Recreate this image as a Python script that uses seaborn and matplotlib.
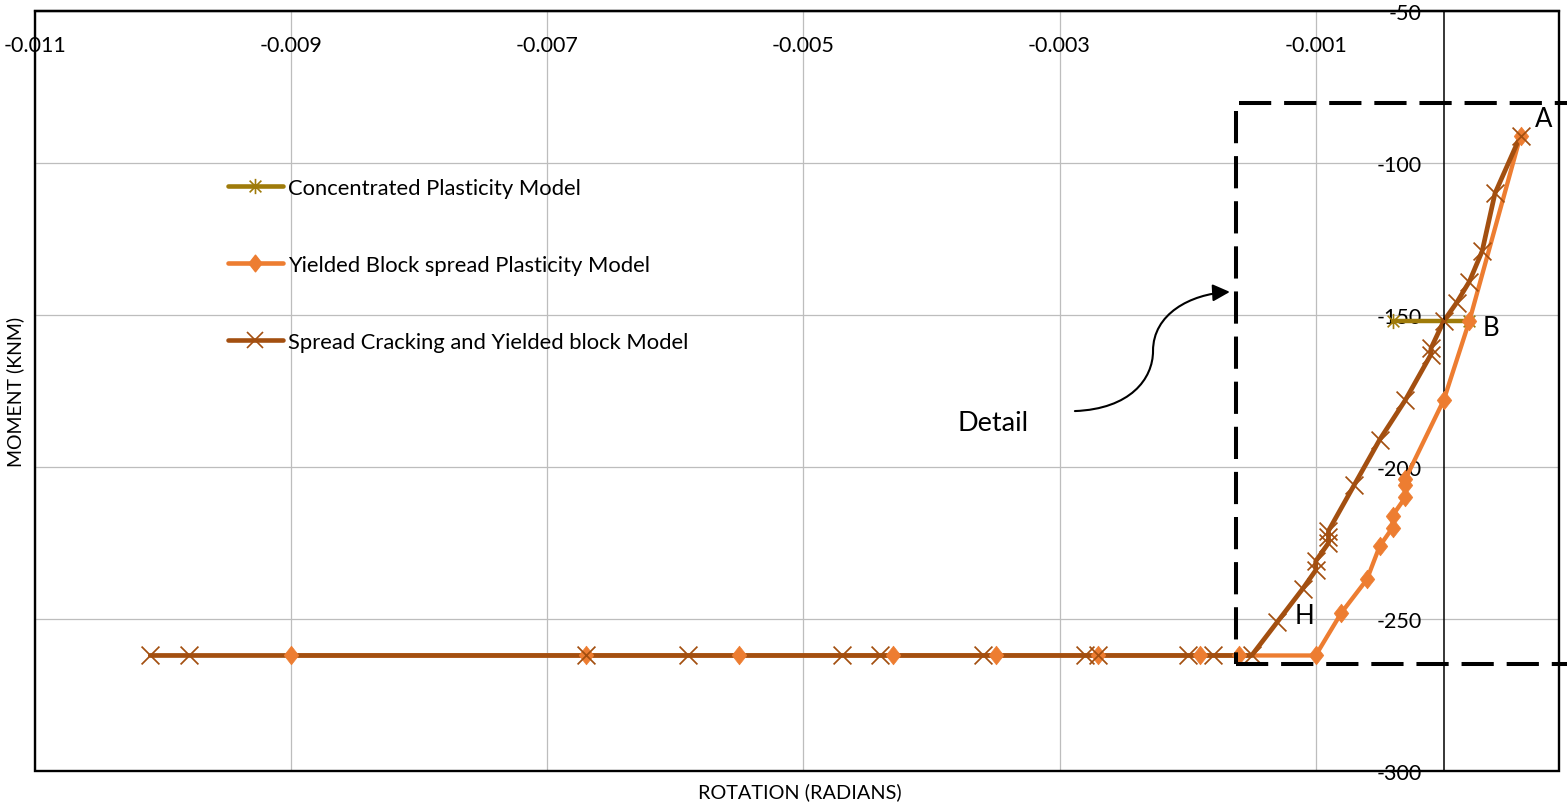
import numpy as np
import pandas as pd
import matplotlib
matplotlib.use("Agg")
import matplotlib.pyplot as plt
import seaborn as sns
from matplotlib.path import Path
from matplotlib.patches import FancyArrowPatch, Rectangle
from matplotlib.lines import Line2D

# ---- moment-rotation data (rotation in radians, moment in kN.m) ----
concentrated_rot = [-0.0004, 0.0002]
concentrated_mom = [-152, -152]

yielded_rot = [0.0006, 0.0002, 0.0, -0.0003, -0.0003, -0.0003, -0.0004, -0.0004,
               -0.0005, -0.0006, -0.0008, -0.0010, -0.0016, -0.0019, -0.0027,
               -0.0035, -0.0043, -0.0055, -0.0067, -0.0090]
yielded_mom = [-91, -152, -178, -204, -206, -210, -216, -220,
               -226, -237, -248, -262, -262, -262, -262,
               -262, -262, -262, -262, -262]

spread_rot = [0.0006, 0.0004, 0.0003, 0.0002, 0.0001, 0.0, -0.0001, -0.0001,
              -0.0003, -0.0005, -0.0007, -0.0009, -0.0009, -0.0009, -0.0010,
              -0.0010, -0.0011, -0.0013, -0.0015, -0.0018, -0.0020, -0.0027,
              -0.0028, -0.0036, -0.0044, -0.0047, -0.0059, -0.0067, -0.0098,
              -0.0101]
spread_mom = [-91, -110, -129, -139, -146, -152, -161, -163,
              -178, -191, -206, -221, -223, -225, -231,
              -234, -240, -251, -262, -262, -262, -262,
              -262, -262, -262, -262, -262, -262, -262,
              -262]

series_names = ["Concentrated Plasticity Model",
                "Yielded Block spread Plasticity Model",
                "Spread Cracking and Yielded block Model"]

x_ticks = [-0.011, -0.009, -0.007, -0.005, -0.003, -0.001]
x_tick_labels = ["-0.011", "-0.009", "-0.007", "-0.005", "-0.003", "-0.001"]
y_ticks = [-300, -250, -200, -150, -100, -50]
y_tick_labels = ["-300", "-250", "-200", "-150", "-100", "-50"]

# ---- styling ----
sns.set_style("white")
plt.rcParams["font.family"] = ["Lato", "DejaVu Sans"]
plt.rcParams["text.color"] = "black"
plt.rcParams["axes.labelcolor"] = "black"

OLIVE = "#9F7B0A"
ORANGE = "#ED7D31"
BROWN = "#A34F10"
GRID = "#BDBDBD"

# asterisk marker: two diagonals plus a vertical stroke
asterisk = Path([(-1, -1), (1, 1), (-1, 1), (1, -1), (0, -1.3), (0, 1.3)],
                [Path.MOVETO, Path.LINETO, Path.MOVETO, Path.LINETO,
                 Path.MOVETO, Path.LINETO])
# slightly tall diamond
diamond = Path([(0, 1), (0.78, 0), (0, -1), (-0.78, 0), (0, 1)],
               [Path.MOVETO, Path.LINETO, Path.LINETO, Path.LINETO, Path.CLOSEPOLY])

W, H = 1567, 803
fig = plt.figure(figsize=(W / 100, H / 100), dpi=100)
ax = fig.add_axes([35 / W, 31 / H, 1524 / W, 760 / H])

conc = pd.DataFrame({"rot": concentrated_rot, "mom": concentrated_mom})
yld = pd.DataFrame({"rot": yielded_rot, "mom": yielded_mom})
spr = pd.DataFrame({"rot": spread_rot, "mom": spread_mom})

# lines
sns.lineplot(data=conc, x="rot", y="mom", sort=False, estimator=None, color=OLIVE,
             lw=3.2, ax=ax, zorder=2.0)
sns.lineplot(data=yld, x="rot", y="mom", sort=False, estimator=None, color=ORANGE,
             lw=3.1, ax=ax, zorder=2.1)
sns.lineplot(data=spr, x="rot", y="mom", sort=False, estimator=None, color=BROWN,
             lw=3.4, ax=ax, zorder=2.2)

# markers on top of all lines
sns.scatterplot(data=conc, x="rot", y="mom", marker=asterisk, s=120, color=OLIVE,
                edgecolor=OLIVE, linewidth=1.2, ax=ax, zorder=3.0)
sns.scatterplot(data=yld, x="rot", y="mom", marker=diamond, s=180, color=ORANGE,
                edgecolor=ORANGE, linewidth=0.5, ax=ax, zorder=3.1)
sns.scatterplot(data=spr, x="rot", y="mom", marker="x", s=165, color=BROWN,
                linewidth=1.25, ax=ax, zorder=3.2)

ax.set_xlim(-0.011, 0.0009)
ax.set_ylim(-300, -50)

# axes: vertical axis crosses at rotation 0, horizontal axis at moment -50
ax.spines["left"].set_position(("data", 0))
ax.spines["bottom"].set_position(("data", -50))
for side in ["top", "right"]:
    ax.spines[side].set_visible(False)
ax.spines["left"].set_color("black")
ax.spines["left"].set_linewidth(1.1)
ax.spines["bottom"].set_color("black")
ax.spines["bottom"].set_linewidth(1.6)
ax.add_patch(Rectangle((0, 0), 1, 1, transform=ax.transAxes, fill=False,
                       ec="black", lw=1.7, clip_on=False, zorder=5))

ax.set_xticks(x_ticks)
ax.set_xticklabels(x_tick_labels)
ax.set_yticks(y_ticks)
ax.set_yticklabels(y_tick_labels)
ax.tick_params(axis="x", length=0, pad=17, labelsize=15.5, colors="black")
ax.tick_params(axis="y", length=0, pad=16, labelsize=15.5, colors="black")
ax.grid(True, color=GRID, lw=0.9)
ax.set_axisbelow(True)

ax.set_xlabel("ROTATION (RADIANS)", fontsize=14.3, va="center")
ax.xaxis.set_label_coords(0.502, -0.026)
ax.set_ylabel("MOMENT (KNM)", fontsize=14, va="center")
ax.yaxis.set_label_coords(-0.013, 0.5)

# detail frame around the rising branch
dash = (0, (8, 3.2))
ax.plot([-0.0016, 0.00096], [-80.3, -80.3], color="black", lw=2.9, ls=dash,
        clip_on=False, zorder=4)
ax.plot([-0.001624, -0.001624], [-83, -264.8], color="black", lw=2.9, ls=dash,
        clip_on=False, zorder=4)
ax.plot([-0.001624, 0.00096], [-264.8, -264.8], color="black", lw=2.9, ls=dash,
        clip_on=False, zorder=4)

# curved pointer from the "Detail" label to the frame
verts = [(-0.00288, -181.6), (-0.00245, -180.9), (-0.00227, -171.1), (-0.00227, -161.8),
         (-0.00227, -149.7), (-0.00198, -143.1), (-0.00167, -142.4)]
codes = [Path.MOVETO, Path.CURVE4, Path.CURVE4, Path.CURVE4,
         Path.CURVE4, Path.CURVE4, Path.CURVE4]
ax.add_patch(FancyArrowPatch(path=Path(verts, codes), arrowstyle="-|>",
                             mutation_scale=26, lw=1.5, color="black", zorder=4))

ax.text(-0.00352, -185.2, "Detail", fontsize=19.5, ha="center", va="center")
ax.text(0.00078, -85.2, "A", fontsize=18.5, ha="center", va="center")
ax.text(0.000367, -154.0, "B", fontsize=18.5, ha="center", va="center")
ax.text(-0.00109, -249.0, "H", fontsize=18.5, ha="center", va="center")

handles = [
    Line2D([], [], color=OLIVE, lw=3.3, marker=asterisk, markersize=11,
           markeredgewidth=1.2, markeredgecolor=OLIVE),
    Line2D([], [], color=ORANGE, lw=3.3, marker=diamond, markersize=12,
           markeredgecolor=ORANGE, markerfacecolor=ORANGE),
    Line2D([], [], color=BROWN, lw=3.3, marker="x", markersize=12,
           markeredgewidth=1.2),
]
ax.legend(handles, series_names, loc="upper left", frameon=False, fontsize=15.8,
          bbox_to_anchor=(228 / W, 1 - 179 / H), bbox_transform=fig.transFigure,
          borderpad=0, borderaxespad=0, handlelength=2.5, handletextpad=0.23,
          labelspacing=2.6)

fig.savefig("out.png", dpi=100)
